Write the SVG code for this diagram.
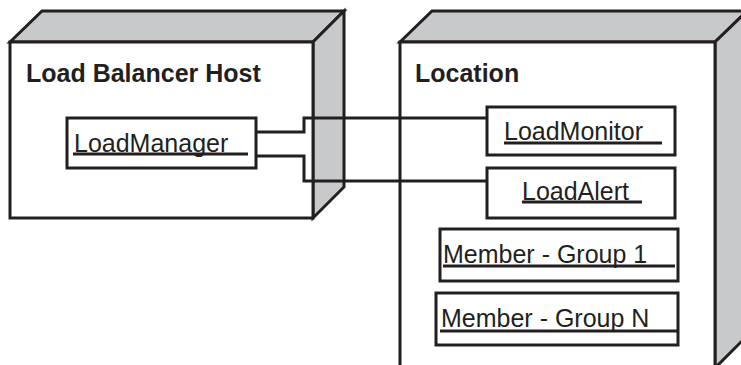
<svg xmlns="http://www.w3.org/2000/svg" width="741" height="365" viewBox="0 0 741 365">
<style>
.face{fill:#ffffff;stroke:#231f20;stroke-width:3;stroke-linejoin:miter}
.side{fill:#c8c9cb;stroke:#231f20;stroke-width:3;stroke-linejoin:miter}
.box{fill:#ffffff;stroke:#231f20;stroke-width:3}
.title{font-family:"Liberation Sans",Arial,sans-serif;font-size:25px;font-weight:bold;fill:#231f20}
.lbl{font-family:"Liberation Sans",Arial,sans-serif;font-size:25px;fill:#231f20}
.ul{stroke:#231f20;stroke-width:3;fill:none}
.conn{stroke:#231f20;stroke-width:3;fill:none;stroke-linejoin:miter}
</style>
<rect width="741" height="365" fill="#ffffff"/>
<g id="node-load-balancer-host">
<polygon class="side" points="10,42 42,11 344,11 313,42"/>
<polygon class="side" points="313,42 344,11 344,187 313,218"/>
<rect class="face" x="10" y="42" width="303" height="176"/>
<text class="title" x="26" y="82">Load Balancer Host</text>
</g>
<g id="node-location">
<polygon class="side" points="400,42 432,11 747,11 715,42"/>
<polygon class="side" points="715,42 747,11 747,336 715,368"/>
<rect class="face" x="400" y="42" width="315" height="326"/>
<text class="title" x="415" y="82">Location</text>
</g>
<g id="node-loadmanager">
<rect class="box" x="67" y="118" width="189" height="50"/>
<text class="lbl" x="74" y="152">LoadManager</text>
<line class="ul" x1="73" y1="154" x2="248" y2="154"/>
</g>
<g id="node-loadmonitor">
<rect class="box" x="487" y="107" width="188" height="48"/>
<text class="lbl" x="504" y="140">LoadMonitor</text>
<line class="ul" x1="504" y1="143" x2="662" y2="143"/>
</g>
<g id="node-loadalert">
<rect class="box" x="487" y="168" width="188" height="50"/>
<text class="lbl" x="522" y="200">LoadAlert</text>
<line class="ul" x1="522" y1="202" x2="642" y2="202"/>
</g>
<g id="node-member-group-1">
<rect class="box" x="440" y="229" width="238" height="52"/>
<text class="lbl" x="443" y="263">Member - Group 1</text>
<line class="ul" x1="443" y1="266" x2="675" y2="266"/>
</g>
<g id="node-member-group-n">
<rect class="box" x="436" y="293" width="242" height="52"/>
<text class="lbl" x="441" y="327">Member - Group N</text>
<line class="ul" x1="440" y1="331" x2="678" y2="331"/>
</g>
<g id="connectors">
<polyline class="conn" points="256,132 304,132 304,118 487,118"/>
<polyline class="conn" points="256,156 304,156 304,181 487,181"/>
</g>
</svg>
